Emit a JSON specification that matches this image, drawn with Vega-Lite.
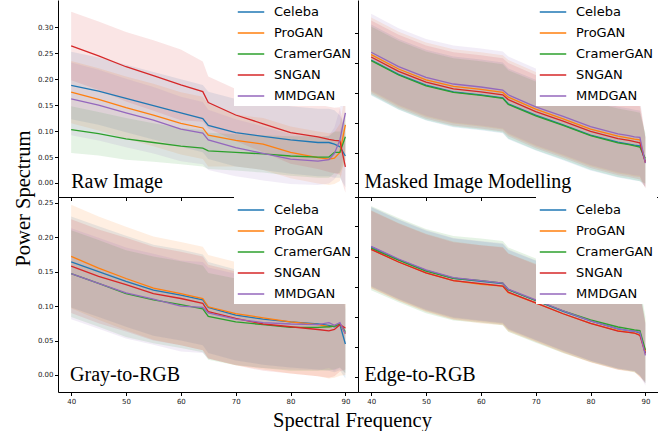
{
"$schema":"https://vega.github.io/schema/vega-lite/v6.json",
"padding":{"left":12,"top":-5,"right":0,"bottom":0},
"background":"white",
"columns":2,
"spacing":0,
"bounds":"flush",
"datasets":{"d":[
{"p":"R","m":"Celeba","x":40,"y":0.188,"lo":0.123,"hi":0.253},
{"p":"R","m":"Celeba","x":45,"y":0.177,"lo":0.112,"hi":0.242},
{"p":"R","m":"Celeba","x":50,"y":0.163,"lo":0.098,"hi":0.228},
{"p":"R","m":"Celeba","x":55,"y":0.149,"lo":0.084,"hi":0.214},
{"p":"R","m":"Celeba","x":60,"y":0.135,"lo":0.070,"hi":0.200},
{"p":"R","m":"Celeba","x":64,"y":0.124,"lo":0.059,"hi":0.189},
{"p":"R","m":"Celeba","x":65,"y":0.111,"lo":0.046,"hi":0.176},
{"p":"R","m":"Celeba","x":70,"y":0.097,"lo":0.032,"hi":0.162},
{"p":"R","m":"Celeba","x":75,"y":0.090,"lo":0.025,"hi":0.155},
{"p":"R","m":"Celeba","x":80,"y":0.083,"lo":0.018,"hi":0.148},
{"p":"R","m":"Celeba","x":85,"y":0.078,"lo":0.013,"hi":0.143},
{"p":"R","m":"Celeba","x":87,"y":0.078,"lo":0.013,"hi":0.143},
{"p":"R","m":"Celeba","x":88,"y":0.075,"lo":0.010,"hi":0.140},
{"p":"R","m":"Celeba","x":89,"y":0.070,"lo":0.010,"hi":0.130},
{"p":"R","m":"Celeba","x":90,"y":0.052,"lo":-0.008,"hi":0.112},
{"p":"R","m":"ProGAN","x":40,"y":0.175,"lo":0.115,"hi":0.235},
{"p":"R","m":"ProGAN","x":45,"y":0.161,"lo":0.101,"hi":0.221},
{"p":"R","m":"ProGAN","x":50,"y":0.145,"lo":0.085,"hi":0.205},
{"p":"R","m":"ProGAN","x":55,"y":0.131,"lo":0.071,"hi":0.191},
{"p":"R","m":"ProGAN","x":60,"y":0.115,"lo":0.055,"hi":0.175},
{"p":"R","m":"ProGAN","x":64,"y":0.106,"lo":0.046,"hi":0.166},
{"p":"R","m":"ProGAN","x":65,"y":0.092,"lo":0.032,"hi":0.152},
{"p":"R","m":"ProGAN","x":70,"y":0.082,"lo":0.032,"hi":0.132},
{"p":"R","m":"ProGAN","x":75,"y":0.075,"lo":0.025,"hi":0.125},
{"p":"R","m":"ProGAN","x":80,"y":0.059,"lo":0.009,"hi":0.109},
{"p":"R","m":"ProGAN","x":85,"y":0.049,"lo":-0.001,"hi":0.099},
{"p":"R","m":"ProGAN","x":87,"y":0.046,"lo":-0.004,"hi":0.096},
{"p":"R","m":"ProGAN","x":88,"y":0.048,"lo":-0.002,"hi":0.098},
{"p":"R","m":"ProGAN","x":89,"y":0.059,"lo":0.004,"hi":0.114},
{"p":"R","m":"ProGAN","x":90,"y":0.112,"lo":0.052,"hi":0.172},
{"p":"R","m":"CramerGAN","x":40,"y":0.103,"lo":0.058,"hi":0.148},
{"p":"R","m":"CramerGAN","x":45,"y":0.095,"lo":0.053,"hi":0.137},
{"p":"R","m":"CramerGAN","x":50,"y":0.085,"lo":0.045,"hi":0.125},
{"p":"R","m":"CramerGAN","x":55,"y":0.078,"lo":0.041,"hi":0.115},
{"p":"R","m":"CramerGAN","x":60,"y":0.071,"lo":0.036,"hi":0.106},
{"p":"R","m":"CramerGAN","x":64,"y":0.067,"lo":0.032,"hi":0.102},
{"p":"R","m":"CramerGAN","x":65,"y":0.062,"lo":0.027,"hi":0.097},
{"p":"R","m":"CramerGAN","x":70,"y":0.059,"lo":0.024,"hi":0.094},
{"p":"R","m":"CramerGAN","x":75,"y":0.056,"lo":0.020,"hi":0.092},
{"p":"R","m":"CramerGAN","x":80,"y":0.052,"lo":0.014,"hi":0.090},
{"p":"R","m":"CramerGAN","x":85,"y":0.050,"lo":0.010,"hi":0.090},
{"p":"R","m":"CramerGAN","x":87,"y":0.050,"lo":0.010,"hi":0.090},
{"p":"R","m":"CramerGAN","x":88,"y":0.059,"lo":0.019,"hi":0.099},
{"p":"R","m":"CramerGAN","x":89,"y":0.059,"lo":0.019,"hi":0.099},
{"p":"R","m":"CramerGAN","x":90,"y":0.089,"lo":0.044,"hi":0.134},
{"p":"R","m":"SNGAN","x":40,"y":0.264,"lo":0.198,"hi":0.330},
{"p":"R","m":"SNGAN","x":45,"y":0.245,"lo":0.179,"hi":0.311},
{"p":"R","m":"SNGAN","x":50,"y":0.224,"lo":0.157,"hi":0.291},
{"p":"R","m":"SNGAN","x":55,"y":0.207,"lo":0.139,"hi":0.275},
{"p":"R","m":"SNGAN","x":60,"y":0.189,"lo":0.121,"hi":0.257},
{"p":"R","m":"SNGAN","x":64,"y":0.176,"lo":0.118,"hi":0.234},
{"p":"R","m":"SNGAN","x":65,"y":0.155,"lo":0.105,"hi":0.205},
{"p":"R","m":"SNGAN","x":70,"y":0.131,"lo":0.081,"hi":0.181},
{"p":"R","m":"SNGAN","x":75,"y":0.114,"lo":0.059,"hi":0.169},
{"p":"R","m":"SNGAN","x":80,"y":0.097,"lo":0.037,"hi":0.157},
{"p":"R","m":"SNGAN","x":85,"y":0.089,"lo":0.027,"hi":0.151},
{"p":"R","m":"SNGAN","x":87,"y":0.084,"lo":0.021,"hi":0.147},
{"p":"R","m":"SNGAN","x":88,"y":0.082,"lo":0.019,"hi":0.145},
{"p":"R","m":"SNGAN","x":89,"y":0.081,"lo":0.016,"hi":0.146},
{"p":"R","m":"SNGAN","x":90,"y":0.031,"lo":-0.019,"hi":0.081},
{"p":"R","m":"MMDGAN","x":40,"y":0.162,"lo":0.092,"hi":0.232},
{"p":"R","m":"MMDGAN","x":45,"y":0.150,"lo":0.082,"hi":0.218},
{"p":"R","m":"MMDGAN","x":50,"y":0.135,"lo":0.069,"hi":0.201},
{"p":"R","m":"MMDGAN","x":55,"y":0.121,"lo":0.057,"hi":0.185},
{"p":"R","m":"MMDGAN","x":60,"y":0.104,"lo":0.042,"hi":0.166},
{"p":"R","m":"MMDGAN","x":64,"y":0.096,"lo":0.036,"hi":0.156},
{"p":"R","m":"MMDGAN","x":65,"y":0.083,"lo":0.025,"hi":0.141},
{"p":"R","m":"MMDGAN","x":70,"y":0.068,"lo":0.013,"hi":0.123},
{"p":"R","m":"MMDGAN","x":75,"y":0.057,"lo":0.005,"hi":0.109},
{"p":"R","m":"MMDGAN","x":80,"y":0.046,"lo":-0.002,"hi":0.094},
{"p":"R","m":"MMDGAN","x":85,"y":0.042,"lo":-0.004,"hi":0.088},
{"p":"R","m":"MMDGAN","x":87,"y":0.045,"lo":-0.001,"hi":0.091},
{"p":"R","m":"MMDGAN","x":88,"y":0.057,"lo":0.007,"hi":0.107},
{"p":"R","m":"MMDGAN","x":89,"y":0.083,"lo":0.023,"hi":0.143},
{"p":"R","m":"MMDGAN","x":90,"y":0.135,"lo":0.065,"hi":0.205},
{"p":"M","m":"Celeba","x":40,"y":0.205,"lo":0.146,"hi":0.264},
{"p":"M","m":"Celeba","x":45,"y":0.181,"lo":0.122,"hi":0.240},
{"p":"M","m":"Celeba","x":50,"y":0.163,"lo":0.104,"hi":0.222},
{"p":"M","m":"Celeba","x":55,"y":0.152,"lo":0.093,"hi":0.211},
{"p":"M","m":"Celeba","x":60,"y":0.147,"lo":0.088,"hi":0.206},
{"p":"M","m":"Celeba","x":64,"y":0.142,"lo":0.083,"hi":0.201},
{"p":"M","m":"Celeba","x":65,"y":0.132,"lo":0.073,"hi":0.191},
{"p":"M","m":"Celeba","x":70,"y":0.113,"lo":0.054,"hi":0.172},
{"p":"M","m":"Celeba","x":75,"y":0.097,"lo":0.038,"hi":0.156},
{"p":"M","m":"Celeba","x":80,"y":0.080,"lo":0.021,"hi":0.139},
{"p":"M","m":"Celeba","x":85,"y":0.068,"lo":0.009,"hi":0.127},
{"p":"M","m":"Celeba","x":87,"y":0.065,"lo":0.006,"hi":0.124},
{"p":"M","m":"Celeba","x":88,"y":0.063,"lo":0.004,"hi":0.122},
{"p":"M","m":"Celeba","x":89,"y":0.062,"lo":0.003,"hi":0.121},
{"p":"M","m":"Celeba","x":90,"y":0.036,"lo":-0.006,"hi":0.078},
{"p":"M","m":"ProGAN","x":40,"y":0.214,"lo":0.152,"hi":0.276},
{"p":"M","m":"ProGAN","x":45,"y":0.190,"lo":0.128,"hi":0.252},
{"p":"M","m":"ProGAN","x":50,"y":0.172,"lo":0.110,"hi":0.234},
{"p":"M","m":"ProGAN","x":55,"y":0.161,"lo":0.099,"hi":0.223},
{"p":"M","m":"ProGAN","x":60,"y":0.156,"lo":0.094,"hi":0.218},
{"p":"M","m":"ProGAN","x":64,"y":0.151,"lo":0.089,"hi":0.213},
{"p":"M","m":"ProGAN","x":65,"y":0.143,"lo":0.081,"hi":0.205},
{"p":"M","m":"ProGAN","x":70,"y":0.123,"lo":0.061,"hi":0.185},
{"p":"M","m":"ProGAN","x":75,"y":0.107,"lo":0.045,"hi":0.169},
{"p":"M","m":"ProGAN","x":80,"y":0.090,"lo":0.028,"hi":0.152},
{"p":"M","m":"ProGAN","x":85,"y":0.078,"lo":0.016,"hi":0.140},
{"p":"M","m":"ProGAN","x":87,"y":0.075,"lo":0.013,"hi":0.137},
{"p":"M","m":"ProGAN","x":88,"y":0.073,"lo":0.011,"hi":0.135},
{"p":"M","m":"ProGAN","x":89,"y":0.072,"lo":0.010,"hi":0.134},
{"p":"M","m":"ProGAN","x":90,"y":0.034,"lo":-0.008,"hi":0.076},
{"p":"M","m":"CramerGAN","x":40,"y":0.204,"lo":0.147,"hi":0.261},
{"p":"M","m":"CramerGAN","x":45,"y":0.180,"lo":0.123,"hi":0.237},
{"p":"M","m":"CramerGAN","x":50,"y":0.162,"lo":0.105,"hi":0.219},
{"p":"M","m":"CramerGAN","x":55,"y":0.151,"lo":0.094,"hi":0.208},
{"p":"M","m":"CramerGAN","x":60,"y":0.146,"lo":0.089,"hi":0.203},
{"p":"M","m":"CramerGAN","x":64,"y":0.141,"lo":0.084,"hi":0.198},
{"p":"M","m":"CramerGAN","x":65,"y":0.131,"lo":0.074,"hi":0.188},
{"p":"M","m":"CramerGAN","x":70,"y":0.112,"lo":0.055,"hi":0.169},
{"p":"M","m":"CramerGAN","x":75,"y":0.096,"lo":0.039,"hi":0.153},
{"p":"M","m":"CramerGAN","x":80,"y":0.079,"lo":0.022,"hi":0.136},
{"p":"M","m":"CramerGAN","x":85,"y":0.067,"lo":0.010,"hi":0.124},
{"p":"M","m":"CramerGAN","x":87,"y":0.064,"lo":0.007,"hi":0.121},
{"p":"M","m":"CramerGAN","x":88,"y":0.062,"lo":0.005,"hi":0.119},
{"p":"M","m":"CramerGAN","x":89,"y":0.060,"lo":0.003,"hi":0.117},
{"p":"M","m":"CramerGAN","x":90,"y":0.041,"lo":-0.001,"hi":0.083},
{"p":"M","m":"SNGAN","x":40,"y":0.210,"lo":0.149,"hi":0.271},
{"p":"M","m":"SNGAN","x":45,"y":0.186,"lo":0.125,"hi":0.247},
{"p":"M","m":"SNGAN","x":50,"y":0.168,"lo":0.107,"hi":0.229},
{"p":"M","m":"SNGAN","x":55,"y":0.157,"lo":0.096,"hi":0.218},
{"p":"M","m":"SNGAN","x":60,"y":0.152,"lo":0.091,"hi":0.213},
{"p":"M","m":"SNGAN","x":64,"y":0.147,"lo":0.086,"hi":0.208},
{"p":"M","m":"SNGAN","x":65,"y":0.139,"lo":0.078,"hi":0.200},
{"p":"M","m":"SNGAN","x":70,"y":0.119,"lo":0.058,"hi":0.180},
{"p":"M","m":"SNGAN","x":75,"y":0.103,"lo":0.042,"hi":0.164},
{"p":"M","m":"SNGAN","x":80,"y":0.086,"lo":0.025,"hi":0.147},
{"p":"M","m":"SNGAN","x":85,"y":0.074,"lo":0.013,"hi":0.135},
{"p":"M","m":"SNGAN","x":87,"y":0.071,"lo":0.010,"hi":0.132},
{"p":"M","m":"SNGAN","x":88,"y":0.069,"lo":0.008,"hi":0.130},
{"p":"M","m":"SNGAN","x":89,"y":0.067,"lo":0.006,"hi":0.128},
{"p":"M","m":"SNGAN","x":90,"y":0.034,"lo":-0.008,"hi":0.076},
{"p":"M","m":"MMDGAN","x":40,"y":0.218,"lo":0.154,"hi":0.282},
{"p":"M","m":"MMDGAN","x":45,"y":0.194,"lo":0.130,"hi":0.258},
{"p":"M","m":"MMDGAN","x":50,"y":0.176,"lo":0.112,"hi":0.240},
{"p":"M","m":"MMDGAN","x":55,"y":0.165,"lo":0.101,"hi":0.229},
{"p":"M","m":"MMDGAN","x":60,"y":0.160,"lo":0.096,"hi":0.224},
{"p":"M","m":"MMDGAN","x":64,"y":0.155,"lo":0.091,"hi":0.219},
{"p":"M","m":"MMDGAN","x":65,"y":0.147,"lo":0.083,"hi":0.211},
{"p":"M","m":"MMDGAN","x":70,"y":0.127,"lo":0.063,"hi":0.191},
{"p":"M","m":"MMDGAN","x":75,"y":0.111,"lo":0.047,"hi":0.175},
{"p":"M","m":"MMDGAN","x":80,"y":0.094,"lo":0.030,"hi":0.158},
{"p":"M","m":"MMDGAN","x":85,"y":0.082,"lo":0.018,"hi":0.146},
{"p":"M","m":"MMDGAN","x":87,"y":0.079,"lo":0.015,"hi":0.143},
{"p":"M","m":"MMDGAN","x":88,"y":0.077,"lo":0.013,"hi":0.141},
{"p":"M","m":"MMDGAN","x":89,"y":0.076,"lo":0.012,"hi":0.140},
{"p":"M","m":"MMDGAN","x":90,"y":0.033,"lo":-0.009,"hi":0.075},
{"p":"G","m":"Celeba","x":40,"y":0.164,"lo":0.098,"hi":0.230},
{"p":"G","m":"Celeba","x":45,"y":0.150,"lo":0.084,"hi":0.216},
{"p":"G","m":"Celeba","x":50,"y":0.136,"lo":0.070,"hi":0.202},
{"p":"G","m":"Celeba","x":55,"y":0.123,"lo":0.057,"hi":0.189},
{"p":"G","m":"Celeba","x":60,"y":0.116,"lo":0.050,"hi":0.182},
{"p":"G","m":"Celeba","x":64,"y":0.109,"lo":0.043,"hi":0.175},
{"p":"G","m":"Celeba","x":65,"y":0.098,"lo":0.032,"hi":0.164},
{"p":"G","m":"Celeba","x":70,"y":0.087,"lo":0.021,"hi":0.153},
{"p":"G","m":"Celeba","x":75,"y":0.081,"lo":0.015,"hi":0.147},
{"p":"G","m":"Celeba","x":80,"y":0.077,"lo":0.011,"hi":0.143},
{"p":"G","m":"Celeba","x":85,"y":0.074,"lo":0.008,"hi":0.140},
{"p":"G","m":"Celeba","x":87,"y":0.072,"lo":0.006,"hi":0.138},
{"p":"G","m":"Celeba","x":88,"y":0.070,"lo":0.004,"hi":0.136},
{"p":"G","m":"Celeba","x":89,"y":0.073,"lo":0.007,"hi":0.139},
{"p":"G","m":"Celeba","x":90,"y":0.045,"lo":-0.005,"hi":0.095},
{"p":"G","m":"ProGAN","x":40,"y":0.172,"lo":0.097,"hi":0.247},
{"p":"G","m":"ProGAN","x":45,"y":0.155,"lo":0.080,"hi":0.230},
{"p":"G","m":"ProGAN","x":50,"y":0.140,"lo":0.065,"hi":0.215},
{"p":"G","m":"ProGAN","x":55,"y":0.126,"lo":0.051,"hi":0.201},
{"p":"G","m":"ProGAN","x":60,"y":0.118,"lo":0.043,"hi":0.193},
{"p":"G","m":"ProGAN","x":64,"y":0.111,"lo":0.036,"hi":0.186},
{"p":"G","m":"ProGAN","x":65,"y":0.099,"lo":0.024,"hi":0.174},
{"p":"G","m":"ProGAN","x":70,"y":0.089,"lo":0.014,"hi":0.164},
{"p":"G","m":"ProGAN","x":75,"y":0.083,"lo":0.008,"hi":0.158},
{"p":"G","m":"ProGAN","x":80,"y":0.077,"lo":0.002,"hi":0.152},
{"p":"G","m":"ProGAN","x":85,"y":0.073,"lo":-0.002,"hi":0.148},
{"p":"G","m":"ProGAN","x":87,"y":0.070,"lo":-0.005,"hi":0.145},
{"p":"G","m":"ProGAN","x":88,"y":0.071,"lo":-0.004,"hi":0.146},
{"p":"G","m":"ProGAN","x":89,"y":0.074,"lo":-0.001,"hi":0.149},
{"p":"G","m":"ProGAN","x":90,"y":0.060,"lo":0.000,"hi":0.120},
{"p":"G","m":"CramerGAN","x":40,"y":0.147,"lo":0.084,"hi":0.210},
{"p":"G","m":"CramerGAN","x":45,"y":0.133,"lo":0.070,"hi":0.196},
{"p":"G","m":"CramerGAN","x":50,"y":0.118,"lo":0.055,"hi":0.181},
{"p":"G","m":"CramerGAN","x":55,"y":0.109,"lo":0.046,"hi":0.172},
{"p":"G","m":"CramerGAN","x":60,"y":0.102,"lo":0.039,"hi":0.165},
{"p":"G","m":"CramerGAN","x":64,"y":0.096,"lo":0.033,"hi":0.159},
{"p":"G","m":"CramerGAN","x":65,"y":0.085,"lo":0.022,"hi":0.148},
{"p":"G","m":"CramerGAN","x":70,"y":0.077,"lo":0.014,"hi":0.140},
{"p":"G","m":"CramerGAN","x":75,"y":0.073,"lo":0.010,"hi":0.136},
{"p":"G","m":"CramerGAN","x":80,"y":0.069,"lo":0.006,"hi":0.132},
{"p":"G","m":"CramerGAN","x":85,"y":0.069,"lo":0.006,"hi":0.132},
{"p":"G","m":"CramerGAN","x":87,"y":0.070,"lo":0.007,"hi":0.133},
{"p":"G","m":"CramerGAN","x":88,"y":0.071,"lo":0.008,"hi":0.134},
{"p":"G","m":"CramerGAN","x":89,"y":0.074,"lo":0.011,"hi":0.137},
{"p":"G","m":"CramerGAN","x":90,"y":0.063,"lo":0.003,"hi":0.123},
{"p":"G","m":"SNGAN","x":40,"y":0.158,"lo":0.090,"hi":0.226},
{"p":"G","m":"SNGAN","x":45,"y":0.143,"lo":0.075,"hi":0.211},
{"p":"G","m":"SNGAN","x":50,"y":0.131,"lo":0.063,"hi":0.199},
{"p":"G","m":"SNGAN","x":55,"y":0.118,"lo":0.050,"hi":0.186},
{"p":"G","m":"SNGAN","x":60,"y":0.111,"lo":0.043,"hi":0.179},
{"p":"G","m":"SNGAN","x":64,"y":0.104,"lo":0.036,"hi":0.172},
{"p":"G","m":"SNGAN","x":65,"y":0.092,"lo":0.024,"hi":0.160},
{"p":"G","m":"SNGAN","x":70,"y":0.082,"lo":0.014,"hi":0.150},
{"p":"G","m":"SNGAN","x":75,"y":0.074,"lo":0.006,"hi":0.142},
{"p":"G","m":"SNGAN","x":80,"y":0.070,"lo":0.002,"hi":0.138},
{"p":"G","m":"SNGAN","x":85,"y":0.066,"lo":-0.002,"hi":0.134},
{"p":"G","m":"SNGAN","x":87,"y":0.064,"lo":-0.004,"hi":0.132},
{"p":"G","m":"SNGAN","x":88,"y":0.066,"lo":-0.002,"hi":0.134},
{"p":"G","m":"SNGAN","x":89,"y":0.073,"lo":0.005,"hi":0.141},
{"p":"G","m":"SNGAN","x":90,"y":0.068,"lo":0.008,"hi":0.128},
{"p":"G","m":"MMDGAN","x":40,"y":0.147,"lo":0.081,"hi":0.213},
{"p":"G","m":"MMDGAN","x":45,"y":0.133,"lo":0.067,"hi":0.199},
{"p":"G","m":"MMDGAN","x":50,"y":0.119,"lo":0.053,"hi":0.185},
{"p":"G","m":"MMDGAN","x":55,"y":0.110,"lo":0.044,"hi":0.176},
{"p":"G","m":"MMDGAN","x":60,"y":0.100,"lo":0.034,"hi":0.166},
{"p":"G","m":"MMDGAN","x":64,"y":0.098,"lo":0.032,"hi":0.164},
{"p":"G","m":"MMDGAN","x":65,"y":0.090,"lo":0.024,"hi":0.156},
{"p":"G","m":"MMDGAN","x":70,"y":0.081,"lo":0.015,"hi":0.147},
{"p":"G","m":"MMDGAN","x":75,"y":0.076,"lo":0.010,"hi":0.142},
{"p":"G","m":"MMDGAN","x":80,"y":0.074,"lo":0.008,"hi":0.140},
{"p":"G","m":"MMDGAN","x":85,"y":0.073,"lo":0.007,"hi":0.139},
{"p":"G","m":"MMDGAN","x":87,"y":0.076,"lo":0.010,"hi":0.142},
{"p":"G","m":"MMDGAN","x":88,"y":0.072,"lo":0.006,"hi":0.138},
{"p":"G","m":"MMDGAN","x":89,"y":0.076,"lo":0.010,"hi":0.142},
{"p":"G","m":"MMDGAN","x":90,"y":0.060,"lo":0.002,"hi":0.118},
{"p":"E","m":"Celeba","x":40,"y":0.216,"lo":0.150,"hi":0.282},
{"p":"E","m":"Celeba","x":45,"y":0.195,"lo":0.129,"hi":0.261},
{"p":"E","m":"Celeba","x":50,"y":0.177,"lo":0.111,"hi":0.243},
{"p":"E","m":"Celeba","x":55,"y":0.164,"lo":0.098,"hi":0.230},
{"p":"E","m":"Celeba","x":60,"y":0.159,"lo":0.093,"hi":0.225},
{"p":"E","m":"Celeba","x":64,"y":0.155,"lo":0.089,"hi":0.221},
{"p":"E","m":"Celeba","x":65,"y":0.145,"lo":0.079,"hi":0.211},
{"p":"E","m":"Celeba","x":70,"y":0.127,"lo":0.061,"hi":0.193},
{"p":"E","m":"Celeba","x":75,"y":0.109,"lo":0.043,"hi":0.175},
{"p":"E","m":"Celeba","x":80,"y":0.093,"lo":0.027,"hi":0.159},
{"p":"E","m":"Celeba","x":85,"y":0.080,"lo":0.014,"hi":0.146},
{"p":"E","m":"Celeba","x":87,"y":0.077,"lo":0.011,"hi":0.143},
{"p":"E","m":"Celeba","x":88,"y":0.076,"lo":0.010,"hi":0.142},
{"p":"E","m":"Celeba","x":89,"y":0.073,"lo":0.002,"hi":0.144},
{"p":"E","m":"Celeba","x":90,"y":0.040,"lo":-0.010,"hi":0.090},
{"p":"E","m":"ProGAN","x":40,"y":0.212,"lo":0.147,"hi":0.277},
{"p":"E","m":"ProGAN","x":45,"y":0.191,"lo":0.126,"hi":0.256},
{"p":"E","m":"ProGAN","x":50,"y":0.173,"lo":0.108,"hi":0.238},
{"p":"E","m":"ProGAN","x":55,"y":0.160,"lo":0.095,"hi":0.225},
{"p":"E","m":"ProGAN","x":60,"y":0.154,"lo":0.089,"hi":0.219},
{"p":"E","m":"ProGAN","x":64,"y":0.151,"lo":0.086,"hi":0.216},
{"p":"E","m":"ProGAN","x":65,"y":0.140,"lo":0.075,"hi":0.205},
{"p":"E","m":"ProGAN","x":70,"y":0.123,"lo":0.058,"hi":0.188},
{"p":"E","m":"ProGAN","x":75,"y":0.105,"lo":0.040,"hi":0.170},
{"p":"E","m":"ProGAN","x":80,"y":0.089,"lo":0.024,"hi":0.154},
{"p":"E","m":"ProGAN","x":85,"y":0.077,"lo":0.012,"hi":0.142},
{"p":"E","m":"ProGAN","x":87,"y":0.074,"lo":0.009,"hi":0.139},
{"p":"E","m":"ProGAN","x":88,"y":0.073,"lo":0.008,"hi":0.138},
{"p":"E","m":"ProGAN","x":89,"y":0.070,"lo":0.000,"hi":0.140},
{"p":"E","m":"ProGAN","x":90,"y":0.043,"lo":-0.007,"hi":0.093},
{"p":"E","m":"CramerGAN","x":40,"y":0.214,"lo":0.144,"hi":0.284},
{"p":"E","m":"CramerGAN","x":45,"y":0.194,"lo":0.124,"hi":0.264},
{"p":"E","m":"CramerGAN","x":50,"y":0.176,"lo":0.106,"hi":0.246},
{"p":"E","m":"CramerGAN","x":55,"y":0.164,"lo":0.094,"hi":0.234},
{"p":"E","m":"CramerGAN","x":60,"y":0.160,"lo":0.090,"hi":0.230},
{"p":"E","m":"CramerGAN","x":64,"y":0.156,"lo":0.086,"hi":0.226},
{"p":"E","m":"CramerGAN","x":65,"y":0.145,"lo":0.075,"hi":0.215},
{"p":"E","m":"CramerGAN","x":70,"y":0.127,"lo":0.057,"hi":0.197},
{"p":"E","m":"CramerGAN","x":75,"y":0.110,"lo":0.040,"hi":0.180},
{"p":"E","m":"CramerGAN","x":80,"y":0.095,"lo":0.025,"hi":0.165},
{"p":"E","m":"CramerGAN","x":85,"y":0.083,"lo":0.013,"hi":0.153},
{"p":"E","m":"CramerGAN","x":87,"y":0.080,"lo":0.010,"hi":0.150},
{"p":"E","m":"CramerGAN","x":88,"y":0.078,"lo":0.008,"hi":0.148},
{"p":"E","m":"CramerGAN","x":89,"y":0.077,"lo":0.002,"hi":0.152},
{"p":"E","m":"CramerGAN","x":90,"y":0.045,"lo":-0.010,"hi":0.100},
{"p":"E","m":"SNGAN","x":40,"y":0.212,"lo":0.148,"hi":0.276},
{"p":"E","m":"SNGAN","x":45,"y":0.191,"lo":0.127,"hi":0.255},
{"p":"E","m":"SNGAN","x":50,"y":0.173,"lo":0.109,"hi":0.237},
{"p":"E","m":"SNGAN","x":55,"y":0.160,"lo":0.096,"hi":0.224},
{"p":"E","m":"SNGAN","x":60,"y":0.155,"lo":0.091,"hi":0.219},
{"p":"E","m":"SNGAN","x":64,"y":0.151,"lo":0.087,"hi":0.215},
{"p":"E","m":"SNGAN","x":65,"y":0.141,"lo":0.077,"hi":0.205},
{"p":"E","m":"SNGAN","x":70,"y":0.123,"lo":0.059,"hi":0.187},
{"p":"E","m":"SNGAN","x":75,"y":0.105,"lo":0.041,"hi":0.169},
{"p":"E","m":"SNGAN","x":80,"y":0.089,"lo":0.025,"hi":0.153},
{"p":"E","m":"SNGAN","x":85,"y":0.076,"lo":0.012,"hi":0.140},
{"p":"E","m":"SNGAN","x":87,"y":0.074,"lo":0.010,"hi":0.138},
{"p":"E","m":"SNGAN","x":88,"y":0.073,"lo":0.009,"hi":0.137},
{"p":"E","m":"SNGAN","x":89,"y":0.069,"lo":0.000,"hi":0.138},
{"p":"E","m":"SNGAN","x":90,"y":0.039,"lo":-0.011,"hi":0.089},
{"p":"E","m":"MMDGAN","x":40,"y":0.217,"lo":0.151,"hi":0.283},
{"p":"E","m":"MMDGAN","x":45,"y":0.196,"lo":0.130,"hi":0.262},
{"p":"E","m":"MMDGAN","x":50,"y":0.178,"lo":0.112,"hi":0.244},
{"p":"E","m":"MMDGAN","x":55,"y":0.165,"lo":0.099,"hi":0.231},
{"p":"E","m":"MMDGAN","x":60,"y":0.160,"lo":0.094,"hi":0.226},
{"p":"E","m":"MMDGAN","x":64,"y":0.156,"lo":0.090,"hi":0.222},
{"p":"E","m":"MMDGAN","x":65,"y":0.146,"lo":0.080,"hi":0.212},
{"p":"E","m":"MMDGAN","x":70,"y":0.128,"lo":0.062,"hi":0.194},
{"p":"E","m":"MMDGAN","x":75,"y":0.110,"lo":0.044,"hi":0.176},
{"p":"E","m":"MMDGAN","x":80,"y":0.093,"lo":0.027,"hi":0.159},
{"p":"E","m":"MMDGAN","x":85,"y":0.080,"lo":0.014,"hi":0.146},
{"p":"E","m":"MMDGAN","x":87,"y":0.077,"lo":0.011,"hi":0.143},
{"p":"E","m":"MMDGAN","x":88,"y":0.076,"lo":0.010,"hi":0.142},
{"p":"E","m":"MMDGAN","x":89,"y":0.074,"lo":0.003,"hi":0.145},
{"p":"E","m":"MMDGAN","x":90,"y":0.036,"lo":-0.014,"hi":0.086}
]},
"concat":[
{"width":300,"height":197,"data":{"name":"d"},
 "layer":[
 {"transform":[{"filter":"datum.p==='R'"}],"mark":{"type":"area","opacity":0.12,"clip":true},
  "encoding":{
   "x":{"field":"x","type":"quantitative","title":null,"scale":{"domain":[37.6,92.3],"nice":false,"zero":false},"axis":{"values":[40,50,60,70,80,90],"labels":false}},
   "y":{"field":"lo","type":"quantitative","title":null,"scale":{"domain":[-0.027,0.3526],"nice":false,"zero":false},"axis":{"values":[0,0.05,0.1,0.15,0.2,0.25,0.3],"format":".2f"}},
   "y2":{"field":"hi"},
   "color":{"field":"m","type":"nominal","scale":{"domain":["Celeba","ProGAN","CramerGAN","SNGAN","MMDGAN"],"range":["#1f77b4","#ff7f0e","#2ca02c","#d62728","#9467bd"]},"legend":{"title":null,"orient":"none","legendX":176,"legendY":-5}}}},
 {"transform":[{"filter":"datum.p==='R'"}],"mark":{"type":"line","strokeWidth":1.3,"clip":true},
  "encoding":{
   "x":{"field":"x","type":"quantitative","title":null,"axis":{"values":[40,50,60,70,80,90],"labels":false}},
   "y":{"field":"y","type":"quantitative","title":null,"axis":{"values":[0,0.05,0.1,0.15,0.2,0.25,0.3],"format":".2f"}},
   "color":{"field":"m","type":"nominal","legend":{"title":null,"orient":"none","legendX":176,"legendY":-5}}}},
 {"data":{"values":[{"t":"Raw Image"}]},"mark":{"type":"text","font":"Liberation Serif","fontSize":20,"align":"left","baseline":"alphabetic","fill":"#000"},
  "encoding":{"x":{"datum":40,"title":null,"axis":{"values":[40,50,60,70,80,90],"labels":false}},"y":{"datum":-0.0102,"title":null,"axis":{"values":[0,0.05,0.1,0.15,0.2,0.25,0.3],"format":".2f"}},"text":{"field":"t"}}}
]},
{"width":300,"height":197,"data":{"name":"d"},
 "layer":[
 {"transform":[{"filter":"datum.p==='M'"}],"mark":{"type":"area","opacity":0.12,"clip":true},
  "encoding":{
   "x":{"field":"x","type":"quantitative","title":null,"scale":{"domain":[37.6,92.3],"nice":false,"zero":false},"axis":{"values":[40,50,60,70,80,90],"labels":false}},
   "y":{"field":"lo","type":"quantitative","title":null,"scale":{"domain":[-0.0233,0.305],"nice":false,"zero":false},"axis":{"values":[0,0.05,0.1,0.15,0.2,0.25],"labels":false}},
   "y2":{"field":"hi"},
   "color":{"field":"m","type":"nominal","scale":{"domain":["Celeba","ProGAN","CramerGAN","SNGAN","MMDGAN"],"range":["#1f77b4","#ff7f0e","#2ca02c","#d62728","#9467bd"]},"legend":{"title":null,"orient":"none","legendX":178,"legendY":-5}}}},
 {"transform":[{"filter":"datum.p==='M'"}],"mark":{"type":"line","strokeWidth":1.3,"clip":true},
  "encoding":{
   "x":{"field":"x","type":"quantitative","title":null,"axis":{"values":[40,50,60,70,80,90],"labels":false}},
   "y":{"field":"y","type":"quantitative","title":null,"axis":{"values":[0,0.05,0.1,0.15,0.2,0.25],"labels":false}},
   "color":{"field":"m","type":"nominal","legend":{"title":null,"orient":"none","legendX":178,"legendY":-5}}}},
 {"data":{"values":[{"t":"Masked Image Modelling"}]},"mark":{"type":"text","font":"Liberation Serif","fontSize":20,"align":"left","baseline":"alphabetic","fill":"#000"},
  "encoding":{"x":{"datum":38.8,"title":null,"axis":{"values":[40,50,60,70,80,90],"labels":false}},"y":{"datum":-0.0088,"title":null,"axis":{"values":[0,0.05,0.1,0.15,0.2,0.25],"labels":false}},"text":{"field":"t"}}}
]},
{"width":300,"height":195,"data":{"name":"d"},
 "layer":[
 {"transform":[{"filter":"datum.p==='G'"}],"mark":{"type":"area","opacity":0.12,"clip":true},
  "encoding":{
   "x":{"field":"x","type":"quantitative","title":"Spectral Frequency","scale":{"domain":[37.6,92.3],"nice":false,"zero":false},"axis":{"values":[40,50,60,70,80,90],"titleX":294,"titleY":34,"titleBaseline":"alphabetic","titleAlign":"center","titleAngle":0}},
   "y":{"field":"lo","type":"quantitative","title":"Power Spectrum","scale":{"domain":[-0.0247,0.2583],"nice":false,"zero":false},"axis":{"values":[0,0.05,0.1,0.15,0.2,0.25],"format":".2f","titleX":-29,"titleY":1,"titleBaseline":"alphabetic","titleAlign":"center","titleAngle":-90}},
   "y2":{"field":"hi"},
   "color":{"field":"m","type":"nominal","scale":{"domain":["Celeba","ProGAN","CramerGAN","SNGAN","MMDGAN"],"range":["#1f77b4","#ff7f0e","#2ca02c","#d62728","#9467bd"]},"legend":{"title":null,"orient":"none","legendX":176,"legendY":-4}}}},
 {"transform":[{"filter":"datum.p==='G'"}],"mark":{"type":"line","strokeWidth":1.3,"clip":true},
  "encoding":{
   "x":{"field":"x","type":"quantitative","title":"Spectral Frequency","axis":{"values":[40,50,60,70,80,90],"titleX":294,"titleY":34,"titleBaseline":"alphabetic","titleAlign":"center","titleAngle":0}},
   "y":{"field":"y","type":"quantitative","title":"Power Spectrum","axis":{"values":[0,0.05,0.1,0.15,0.2,0.25],"format":".2f","titleX":-29,"titleY":1,"titleBaseline":"alphabetic","titleAlign":"center","titleAngle":-90}},
   "color":{"field":"m","type":"nominal","legend":{"title":null,"orient":"none","legendX":176,"legendY":-4}}}},
 {"data":{"values":[{"t":"Gray-to-RGB"}]},"mark":{"type":"text","font":"Liberation Serif","fontSize":20,"align":"left","baseline":"alphabetic","fill":"#000"},
  "encoding":{"x":{"datum":39.8,"title":"Spectral Frequency","axis":{"values":[40,50,60,70,80,90],"titleX":294,"titleY":34,"titleBaseline":"alphabetic","titleAlign":"center","titleAngle":0}},"y":{"datum":-0.0083,"title":"Power Spectrum","axis":{"values":[0,0.05,0.1,0.15,0.2,0.25],"format":".2f","titleX":-29,"titleY":1,"titleBaseline":"alphabetic","titleAlign":"center","titleAngle":-90}},"text":{"field":"t"}}}
]},
{"width":300,"height":195,"data":{"name":"d"},
 "layer":[
 {"transform":[{"filter":"datum.p==='E'"}],"mark":{"type":"area","opacity":0.12,"clip":true},
  "encoding":{
   "x":{"field":"x","type":"quantitative","title":null,"scale":{"domain":[37.6,92.3],"nice":false,"zero":false},"axis":{"values":[40,50,60,70,80,90]}},
   "y":{"field":"lo","type":"quantitative","title":null,"scale":{"domain":[-0.025,0.299],"nice":false,"zero":false},"axis":{"values":[0,0.05,0.1,0.15,0.2,0.25],"labels":false}},
   "y2":{"field":"hi"},
   "color":{"field":"m","type":"nominal","scale":{"domain":["Celeba","ProGAN","CramerGAN","SNGAN","MMDGAN"],"range":["#1f77b4","#ff7f0e","#2ca02c","#d62728","#9467bd"]},"legend":{"title":null,"orient":"none","legendX":178,"legendY":-4}}}},
 {"transform":[{"filter":"datum.p==='E'"}],"mark":{"type":"line","strokeWidth":1.3,"clip":true},
  "encoding":{
   "x":{"field":"x","type":"quantitative","title":null,"axis":{"values":[40,50,60,70,80,90]}},
   "y":{"field":"y","type":"quantitative","title":null,"axis":{"values":[0,0.05,0.1,0.15,0.2,0.25],"labels":false}},
   "color":{"field":"m","type":"nominal","legend":{"title":null,"orient":"none","legendX":178,"legendY":-4}}}},
 {"data":{"values":[{"t":"Edge-to-RGB"}]},"mark":{"type":"text","font":"Liberation Serif","fontSize":20,"align":"left","baseline":"alphabetic","fill":"#000"},
  "encoding":{"x":{"datum":38.8,"title":null,"axis":{"values":[40,50,60,70,80,90]}},"y":{"datum":-0.0062,"title":null,"axis":{"values":[0,0.05,0.1,0.15,0.2,0.25],"labels":false}},"text":{"field":"t"}}}
]}
],
"resolve":{"scale":{"x":"independent","y":"independent","color":"independent"},"legend":{"color":"independent"}},
"config":{
 "view":{"stroke":null},
 "axis":{"grid":false,"domainColor":"#000","domainWidth":1,"tickColor":"#000","tickWidth":1,"tickSize":3.5,"labelFont":"DejaVu Sans","labelFontSize":7,"labelColor":"#222","labelPadding":1.5,"labelFlush":false,"labelOverlap":false,"titleFont":"Liberation Serif","titleFontSize":20.5,"titleFontWeight":"normal","titleColor":"#000"},
 "legend":{"fillColor":"white","padding":3,"labelFont":"DejaVu Sans","labelFontSize":13,"labelColor":"#000","symbolType":"stroke","symbolSize":700,"symbolStrokeWidth":1.5,"labelOffset":9,"rowPadding":-1,"symbolOpacity":1,"symbolFillColor":"transparent"}
}
}
